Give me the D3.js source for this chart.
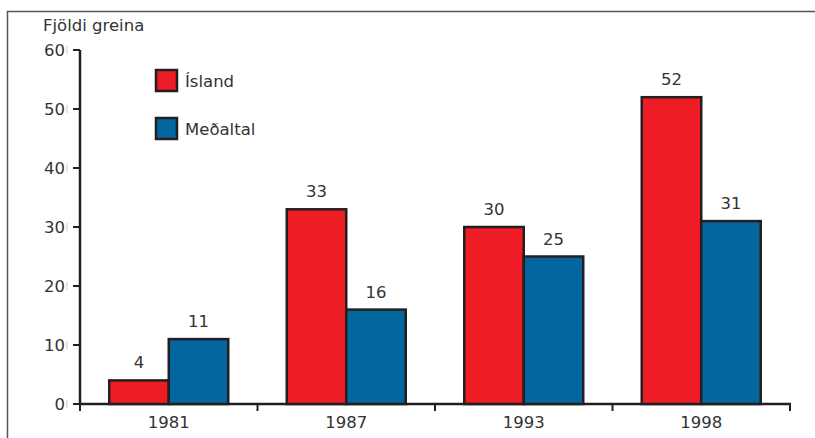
<!DOCTYPE html>
<html>
<head>
<meta charset="utf-8">
<script src="https://cdn.jsdelivr.net/npm/d3@7"></script>
<style>
  body { margin: 0; background: #fff; }
  svg { display: block; font-family: "DejaVu Sans", sans-serif; }
</style>
</head>
<body>
<svg id="chart" width="815" height="438"></svg>
<script>
// data
const years = ['1981', '1987', '1993', '1998'];
const island = [4, 33, 30, 52];
const medaltal = [11, 16, 25, 31];
const seriesNames = ['Ísland', 'Meðaltal'];
const yTicks = [0, 10, 20, 30, 40, 50, 60];

const colors = ['#ee1d25', '#03669e'];
const svg = d3.select('#chart');
const fs = 16.5;

// outer frame (top + left edges only)
svg.append('path')
  .attr('d', 'M7.5,438 V11.5 H815')
  .attr('fill', 'none').attr('stroke', '#555').attr('stroke-width', 1.5);

const x = d3.scaleBand().domain(years).range([80, 790]);
const inner = d3.scaleBand().domain([0, 1]).range([0, 119]);
const y = d3.scaleLinear().domain([0, 60]).range([404, 50]);

// title
svg.append('text').attr('x', 43).attr('y', 31)
  .attr('font-size', fs).attr('fill', '#333').text('Fjöldi greina');

// y axis
const gy = svg.append('g');
gy.append('line').attr('x1', 80).attr('x2', 80).attr('y1', y(60)).attr('y2', y(0))
  .attr('stroke', '#231f20').attr('stroke-width', 2.5);
yTicks.forEach(t => {
  gy.append('line').attr('x1', 73).attr('x2', 80).attr('y1', y(t)).attr('y2', y(t))
    .attr('stroke', '#231f20').attr('stroke-width', 2);
  gy.append('line').attr('x1', 67).attr('x2', 67).attr('y1', y(t) - 4).attr('y2', y(t) + 4)
    .attr('stroke', '#bbb').attr('stroke-width', 0.8);
  gy.append('text').attr('x', 65).attr('y', y(t)).attr('dy', '0.36em')
    .attr('text-anchor', 'end').attr('font-size', fs).attr('fill', '#333').text(t);
});

// x axis
const gx = svg.append('g');
gx.append('line').attr('x1', 79).attr('x2', 791).attr('y1', y(0)).attr('y2', y(0))
  .attr('stroke', '#231f20').attr('stroke-width', 2.5);
const edges = years.map(d => x(d)).concat([x.range()[1]]);
edges.forEach(e => {
  gx.append('line').attr('x1', e).attr('x2', e).attr('y1', y(0)).attr('y2', y(0) + 7)
    .attr('stroke', '#231f20').attr('stroke-width', 2);
});
years.forEach(yr => {
  gx.append('text').attr('x', x(yr) + x.bandwidth() / 2).attr('y', 428)
    .attr('text-anchor', 'middle').attr('font-size', fs).attr('fill', '#333').text(yr);
});

// bars
const series = [island, medaltal];
series.forEach((vals, si) => {
  const g = svg.append('g');
  g.selectAll('rect').data(vals).join('rect')
    .attr('x', (d, i) => x(years[i]) + (x.bandwidth() - 119) / 2 + inner(si))
    .attr('y', d => y(d))
    .attr('width', inner.bandwidth())
    .attr('height', d => y(0) - y(d))
    .attr('fill', colors[si])
    .attr('stroke', '#231f20').attr('stroke-width', 2.5);
  g.selectAll('text').data(vals).join('text')
    .attr('x', (d, i) => x(years[i]) + (x.bandwidth() - 119) / 2 + inner(si) + inner.bandwidth() / 2)
    .attr('y', d => y(d) - 12)
    .attr('text-anchor', 'middle').attr('font-size', fs).attr('fill', '#333').text(d => d);
});

// legend
seriesNames.forEach((name, i) => {
  const ly = 70 + i * 48;
  svg.append('rect').attr('x', 156).attr('y', ly).attr('width', 21).attr('height', 21)
    .attr('fill', colors[i]).attr('stroke', '#231f20').attr('stroke-width', 2.5);
  svg.append('text').attr('x', 185).attr('y', ly + 17)
    .attr('font-size', fs).attr('fill', '#333').text(name);
});
</script>
</body>
</html>
